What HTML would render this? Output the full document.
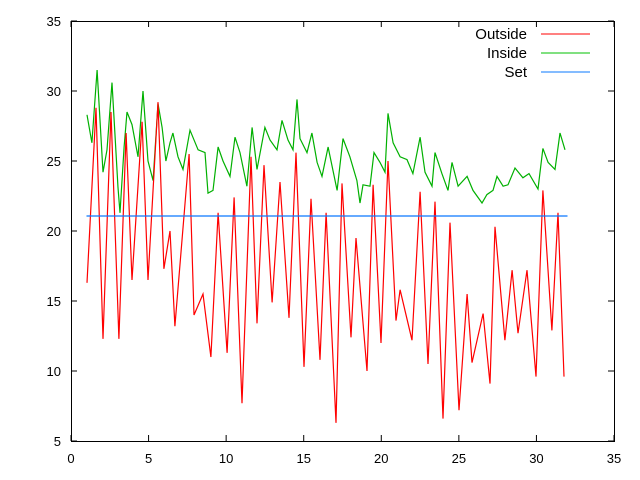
<!DOCTYPE html>
<html><head><meta charset="utf-8"><style>
html,body{margin:0;padding:0;background:#fff;}
svg{display:block;font-family:"Liberation Sans",sans-serif;}
</style></head><body>
<svg id="chart" width="640" height="480">
<rect x="0" y="0" width="640" height="480" fill="#fff"/>
<g id="grid"></g>
<g id="series"></g>
<g id="legend"></g>
</svg>
<script>
const xTicks=[0,5,10,15,20,25,30,35];
const yTicks=[5,10,15,20,25,30,35];
const outsideX=[1.03,1.61,2.06,2.58,3.09,3.55,3.93,4.58,4.96,5.61,5.99,6.38,6.70,7.61,7.93,8.51,9.02,9.48,10.06,10.51,11.02,11.60,11.99,12.44,12.96,13.47,14.05,14.50,15.02,15.47,16.05,16.44,17.08,17.47,18.05,18.37,19.08,19.47,19.98,20.43,20.95,21.21,21.98,22.50,23.01,23.46,23.98,24.43,25.01,25.53,25.85,26.56,27.01,27.33,27.97,28.43,28.81,29.39,29.97,30.42,31.00,31.39,31.78];
const outsideY=[16.3,28.8,12.3,28.5,12.3,27.0,16.5,27.8,16.5,29.2,17.3,20.0,13.2,25.5,14.0,15.5,11.0,21.3,11.3,22.4,7.7,25.3,13.4,24.7,14.9,23.5,13.8,25.6,10.3,22.3,10.8,21.3,6.3,23.4,12.4,19.5,10.0,23.3,12.0,25.0,13.6,15.8,12.2,22.8,10.5,22.1,6.6,20.6,7.2,15.5,10.6,14.1,9.1,20.3,12.2,17.2,12.7,17.2,9.6,22.9,12.9,21.3,9.6];
const insideX=[1.03,1.35,1.68,2.06,2.32,2.64,3.03,3.16,3.42,3.61,3.93,4.32,4.64,4.96,5.29,5.61,5.87,6.12,6.38,6.57,6.90,7.22,7.67,8.19,8.64,8.83,9.15,9.48,9.80,10.25,10.57,10.89,11.34,11.67,11.99,12.50,12.83,13.28,13.60,13.99,14.31,14.57,14.76,15.21,15.53,15.86,16.18,16.57,17.15,17.53,17.98,18.43,18.63,18.82,19.27,19.53,19.92,20.24,20.43,20.76,21.21,21.66,22.04,22.50,22.82,23.27,23.46,23.91,24.30,24.56,24.95,25.53,25.91,26.49,26.81,27.20,27.46,27.85,28.17,28.62,29.13,29.52,30.10,30.42,30.75,31.20,31.52,31.84];
const insideY=[28.3,26.3,31.5,24.2,25.8,30.6,23.1,21.3,26,28.5,27.6,25.3,30,25,23.6,29.1,27.4,25,26.3,27,25.3,24.4,27.2,25.8,25.6,22.7,22.9,26,25,23.9,26.7,25.6,23.2,27.4,24.4,27.4,26.5,25.8,27.9,26.5,25.8,29.4,26.6,25.6,27,24.9,23.9,26,22.9,26.6,25.3,23.6,22,23.3,23.2,25.6,24.9,24.2,28.4,26.3,25.3,25.1,24.1,26.7,24.2,23.2,25.6,24.1,22.9,24.9,23.2,23.9,22.9,22,22.6,22.9,23.9,23.2,23.3,24.5,23.8,24.1,23,25.9,24.9,24.4,27,25.8];
const setX=[1,32];
const setY=[21.07,21.07];

const L=71,R=614,T=21,B=441;
const xMin=0,xMax=35,yMin=5,yMax=35;
const sx=v=>L+(v-xMin)/(xMax-xMin)*(R-L);
const sy=v=>B-(v-yMin)/(yMax-yMin)*(B-T);
const NS="http://www.w3.org/2000/svg";
function mk(tag,attrs,parent){const e=document.createElementNS(NS,tag);for(const k in attrs)e.setAttribute(k,attrs[k]);parent.appendChild(e);return e;}
const grid=document.getElementById('grid');
xTicks.forEach(v=>{
  const x=sx(v);
  const t1=mk('line',{x1:x,y1:B,x2:x,y2:B-6,stroke:'#000','stroke-width':1},grid);
  
  
  const t2=mk('line',{x1:x,y1:T,x2:x,y2:T+6,stroke:'#000','stroke-width':1},grid);
  
  
  const tx=mk('text',{x:x,y:B+22,'text-anchor':'middle','font-size':'13',fill:'#000'},grid);
  tx.textContent=v;
  
  
});
yTicks.forEach(v=>{
  const y=sy(v);
  const t1=mk('line',{x1:L,y1:y,x2:L+6,y2:y,stroke:'#000','stroke-width':1},grid);
  
  
  const t2=mk('line',{x1:R,y1:y,x2:R-6,y2:y,stroke:'#000','stroke-width':1},grid);
  
  
  const tx=mk('text',{x:L-10,y:y+5,'text-anchor':'end','font-size':'13',fill:'#000'},grid);
  tx.textContent=v;
  
  
});
const frame=mk('rect',{x:L+0.5,y:T+0.5,width:R-L,height:B-T,fill:'none',stroke:'#000','stroke-width':1},grid);



const ser=document.getElementById('series');
function line(xs,ys,color,name){
  const pts=xs.map((x,i)=>sx(x).toFixed(1)+','+sy(ys[i]).toFixed(1)).join(' ');
  const p=mk('polyline',{points:pts,fill:'none',stroke:color,'stroke-width':1.2},ser);
  
  
}
line(insideX,insideY,'#00b000','inside-line');
line(outsideX,outsideY,'#ff0000','outside-line');
line(setX,setY,'#0a78ff','set-line');

const leg=document.getElementById('legend');
[['Outside','#ff0000'],['Inside','#00c000'],['Set','#0a78ff']].forEach((d,i)=>{
  const y=34+i*19;
  const t=mk('text',{x:527,y:y+5,'text-anchor':'end','font-size':'15',fill:'#000'},leg);
  t.textContent=d[0];
  
  
  const s=mk('line',{x1:541,y1:y,x2:590,y2:y,stroke:d[1],'stroke-width':1},leg);
  
  
});
</script>
</body></html>
